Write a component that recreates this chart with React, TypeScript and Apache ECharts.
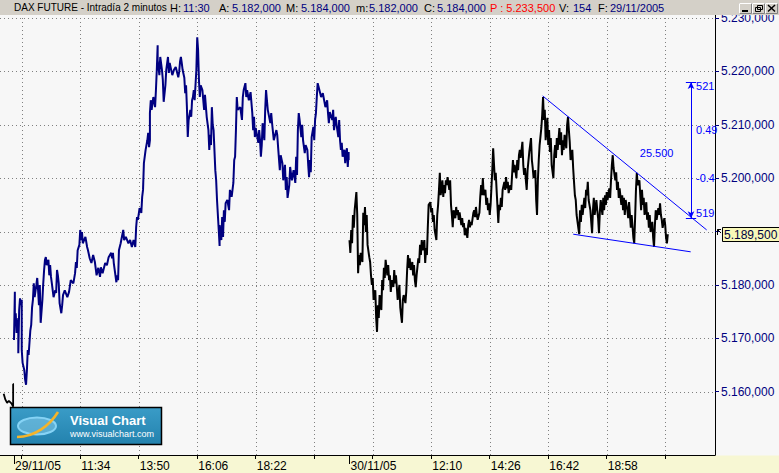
import React, { useEffect, useRef } from "react";
import * as echarts from "echarts";

// ---- data (x = 2-minute bar index from 29/11 09:00, day 2 starts at bar 390) ----
const preDay: [number, number][] = [
  [-12, 5159.6], [-10, 5158.5], [-8, 5157.9], [-6, 5158.3], [-3, 5157.8], [-1, 5157.2], [-1, 5161.4], [0, 5161.4],
];

const day1: [number, number][] = [
  [0,5169.7],[1,5178.7],[1,5173.4],[2,5174.7],[3,5171.0],[5,5173.8],[5,5167.2],[6,5175.3],[7,5177.5],[8,5176.2],[9,5177.2],[9,5167.8],[10,5165.4],[12,5164.0],[13,5162.2],[14,5161.3],[15,5164.0],[16,5167.8],[17,5166.9],[19,5171.5],[20,5172.5],[21,5175.8],[22,5177.2],[23,5180.3],[24,5177.7],[26,5180.0],[27,5181.3],[28,5179.0],[29,5176.2],[30,5180.0],[31,5172.9],[33,5177.2],[34,5180.3],[35,5182.8],[36,5184.7],[37,5185.2],[38,5183.7],[40,5184.7],[41,5181.8],[42,5183.7],[43,5181.5],[44,5180.3],[46,5177.7],[48,5179.0],[49,5178.5],[50,5182.8],[51,5181.8],[52,5180.3],[53,5176.6],[55,5174.7],[56,5176.2],[57,5178.1],[59,5179.0],[62,5177.7],[64,5178.7],[66,5180.9],[69,5180.3],[71,5182.2],[72,5184.3],[73,5183.2],[74,5186.5],[76,5187.5],[77,5190.3],[78,5188.4],[79,5189.9],[80,5187.8],[83,5189.0],[85,5187.1],[86,5186.5],[88,5185.0],[90,5184.1],[92,5185.6],[94,5184.3],[96,5181.8],[98,5183.2],[100,5181.5],[101,5183.3],[103,5182.2],[106,5184.1],[108,5183.7],[110,5185.2],[113,5186.0],[114,5185.0],[115,5186.0],[116,5184.1],[119,5180.5],[120,5181.8],[121,5180.9],[122,5186.5],[124,5187.8],[127,5190.3],[128,5188.4],[130,5189.0],[133,5187.8],[135,5188.4],[137,5187.1],[139,5188.4],[141,5187.1],[142,5190.8],[143,5192.7],[144,5192.2],[146,5194.4],[148,5193.5],[149,5196.5],[150,5197.8],[151,5202.8],[153,5205.3],[155,5207.1],[156,5208.5],[157,5205.8],[158,5207.1],[158,5212.2],[159,5214.6],[160,5212.8],[162,5215.2],[164,5213.3],[165,5216.5],[166,5220.3],[167,5224.9],[167,5222.1],[169,5219.3],[170,5222.7],[172,5220.3],[173,5218.4],[174,5214.3],[176,5217.4],[177,5220.3],[179,5222.7],[180,5219.7],[181,5221.6],[184,5219.3],[186,5220.3],[188,5220.8],[191,5218.9],[192,5219.9],[193,5221.8],[194,5222.7],[195,5221.6],[196,5220.3],[198,5218.8],[199,5215.9],[200,5217.4],[201,5213.3],[202,5207.7],[203,5210.9],[205,5212.8],[206,5211.5],[207,5214.6],[208,5215.2],[209,5216.5],[210,5214.6],[212,5220.3],[213,5226.4],[214,5224.0],[215,5218.4],[216,5215.2],[217,5217.4],[219,5216.5],[221,5212.8],[222,5215.6],[224,5211.5],[226,5209.0],[227,5205.3],[228,5208.1],[229,5206.2],[230,5213.3],[231,5210.0],[232,5209.0],[234,5201.5],[235,5199.6],[236,5195.9],[237,5193.1],[238,5190.3],[239,5187.3],[239,5191.2],[241,5188.4],[242,5192.7],[243,5189.0],[244,5194.0],[245,5191.8],[246,5195.3],[248,5195.9],[250,5194.0],[251,5197.8],[253,5196.5],[255,5199.1],[256,5203.4],[257,5204.0],[258,5209.0],[259,5215.2],[260,5212.8],[263,5213.3],[265,5210.9],[266,5215.2],[267,5216.5],[269,5217.8],[270,5215.2],[271,5216.5],[273,5214.6],[275,5216.1],[277,5212.2],[278,5209.0],[279,5211.5],[280,5207.7],[281,5209.4],[284,5206.6],[285,5209.0],[286,5207.1],[287,5204.0],[288,5206.2],[289,5210.3],[291,5207.1],[292,5212.8],[293,5216.5],[294,5214.6],[295,5212.8],[298,5210.3],[299,5212.2],[300,5210.3],[302,5207.1],[305,5209.0],[306,5208.1],[307,5205.8],[309,5201.5],[310,5204.3],[312,5202.8],[313,5199.6],[315,5202.5],[316,5197.8],[317,5200.2],[318,5196.3],[320,5198.7],[321,5202.1],[323,5199.6],[325,5201.5],[327,5199.1],[328,5204.0],[329,5200.6],[330,5209.0],[331,5212.2],[332,5210.9],[334,5207.7],[335,5210.0],[336,5207.1],[338,5204.7],[339,5206.2],[341,5205.3],[342,5202.5],[343,5200.2],[344,5203.4],[345,5201.1],[346,5207.7],[348,5209.6],[349,5207.1],[350,5210.9],[351,5212.2],[352,5215.2],[353,5217.8],[355,5216.5],[357,5215.2],[359,5215.9],[362,5213.3],[364,5214.6],[365,5212.2],[366,5210.3],[367,5212.4],[370,5210.9],[371,5212.8],[372,5209.0],[374,5211.5],[375,5210.0],[377,5207.7],[378,5210.9],[379,5207.1],[380,5205.3],[381,5206.6],[382,5204.0],[384,5205.3],[385,5202.8],[386,5204.7],[387,5205.6],[388,5202.1],[389,5204.9],[389,5203.4],
];

const day2: [number, number][] = [
  [390,5188.4],[391,5186.0],[392,5190.3],[393,5187.8],[394,5193.1],[395,5190.7],[396,5194.0],[398,5197.4],[399,5193.1],[400,5182.2],[401,5185.6],[402,5183.7],[403,5186.0],[405,5184.3],[406,5193.5],[407,5191.2],[408,5194.6],[409,5189.9],[410,5193.1],[411,5187.5],[413,5185.2],[414,5184.3],[415,5181.8],[416,5180.0],[417,5181.3],[418,5177.2],[420,5179.0],[421,5173.8],[422,5171.2],[423,5176.2],[424,5173.8],[425,5178.1],[427,5175.3],[428,5180.9],[429,5179.0],[430,5183.2],[431,5181.3],[432,5184.7],[434,5181.8],[435,5183.7],[436,5180.9],[437,5181.8],[438,5178.7],[439,5180.9],[441,5179.6],[442,5182.8],[443,5180.3],[444,5181.8],[445,5179.6],[446,5177.2],[448,5180.0],[449,5175.8],[450,5174.3],[451,5172.9],[452,5177.2],[453,5178.1],[455,5176.6],[456,5178.8],[457,5182.8],[458,5185.6],[459,5183.2],[460,5185.0],[461,5182.8],[463,5184.3],[464,5181.8],[465,5183.7],[466,5180.9],[467,5179.6],[468,5181.8],[470,5185.0],[471,5184.1],[472,5187.5],[473,5185.6],[474,5188.4],[475,5186.5],[477,5188.4],[478,5184.1],[479,5186.9],[480,5185.6],[481,5190.7],[482,5195.0],[484,5195.5],[485,5193.6],[486,5194.4],[487,5191.8],[488,5193.1],[489,5190.3],[491,5188.4],[492,5193.1],[493,5195.0],[494,5197.8],[495,5201.0],[496,5196.8],[498,5199.6],[499,5196.5],[500,5198.7],[501,5197.2],[502,5199.6],[503,5198.7],[504,5200.2],[506,5197.8],[507,5199.6],[508,5195.0],[509,5193.1],[510,5190.8],[511,5194.0],[513,5192.5],[514,5194.6],[515,5193.1],[516,5194.0],[517,5192.2],[518,5193.6],[520,5191.2],[521,5192.5],[522,5190.8],[523,5191.6],[524,5189.3],[525,5190.7],[527,5188.8],[528,5191.2],[529,5192.2],[530,5190.8],[531,5191.8],[532,5191.2],[534,5193.5],[535,5194.0],[536,5192.7],[537,5194.6],[538,5193.1],[539,5192.2],[541,5193.5],[542,5196.5],[543,5198.7],[544,5196.8],[545,5200.0],[546,5196.8],[548,5197.8],[549,5195.0],[550,5196.3],[551,5194.0],[552,5195.3],[553,5193.1],[554,5195.0],[556,5201.5],[557,5205.6],[558,5202.5],[559,5199.6],[560,5201.0],[561,5197.8],[563,5191.6],[564,5195.0],[565,5194.0],[566,5196.3],[567,5194.6],[568,5197.8],[570,5199.3],[571,5197.8],[572,5200.2],[573,5198.1],[574,5199.3],[575,5197.2],[577,5198.7],[578,5197.8],[579,5200.6],[580,5203.4],[581,5201.1],[582,5202.5],[584,5200.0],[585,5203.4],[586,5201.5],[587,5204.3],[588,5205.3],[589,5203.8],[591,5206.8],[592,5202.5],[593,5200.6],[594,5201.9],[595,5199.6],[596,5197.8],[597,5201.5],[599,5204.9],[600,5206.2],[601,5207.5],[602,5203.4],[603,5201.9],[604,5200.0],[606,5201.5],[607,5195.9],[608,5193.1],[609,5199.6],[610,5203.4],[611,5206.2],[613,5209.4],[614,5211.8],[615,5215.2],[616,5210.9],[617,5212.8],[618,5207.1],[620,5211.3],[621,5206.2],[622,5209.0],[623,5204.9],[624,5207.5],[625,5202.5],[627,5200.0],[628,5204.3],[629,5206.2],[630,5203.8],[631,5207.5],[632,5205.3],[634,5209.4],[635,5206.2],[636,5208.6],[637,5204.3],[638,5207.1],[639,5205.3],[640,5208.1],[642,5205.6],[643,5210.0],[644,5211.5],[645,5209.0],[646,5206.8],[647,5203.4],[649,5205.3],[650,5201.9],[651,5199.3],[652,5196.8],[653,5195.9],[654,5193.1],[656,5190.7],[657,5189.5],[658,5194.0],[659,5191.8],[660,5195.0],[661,5193.1],[663,5196.3],[664,5194.4],[665,5197.8],[666,5196.8],[667,5199.3],[668,5195.9],[670,5194.0],[671,5191.8],[672,5189.7],[673,5194.0],[674,5196.3],[675,5193.1],[677,5195.9],[678,5194.0],[679,5192.5],[680,5189.7],[681,5193.6],[682,5195.9],[684,5193.1],[685,5196.3],[686,5194.0],[687,5196.8],[688,5195.0],[689,5197.4],[690,5195.9],[692,5198.1],[693,5196.3],[694,5199.6],[695,5202.5],[696,5204.3],[697,5201.9],[699,5199.6],[700,5201.1],[701,5197.8],[702,5199.3],[703,5196.3],[704,5198.1],[706,5195.0],[707,5196.8],[708,5194.0],[709,5196.3],[710,5193.1],[711,5195.9],[713,5194.0],[714,5192.5],[715,5195.5],[716,5193.1],[717,5190.7],[718,5193.1],[720,5188.8],[721,5187.8],[722,5192.5],[723,5197.8],[724,5201.0],[725,5198.7],[727,5199.6],[728,5196.8],[729,5194.0],[730,5197.8],[731,5195.0],[732,5196.3],[733,5193.1],[735,5195.5],[736,5192.2],[737,5193.6],[738,5190.7],[739,5193.1],[740,5189.9],[742,5191.8],[743,5188.8],[744,5187.1],[745,5191.2],[746,5194.0],[747,5192.2],[749,5194.4],[750,5193.1],[751,5195.3],[752,5193.1],[753,5192.2],[754,5190.7],[756,5192.5],[757,5191.2],[758,5188.8],[759,5187.8],[760,5189.5],
];

const priceTicks = [5160, 5170, 5180, 5190, 5200, 5210, 5220, 5230];
const priceLabels = [5160, 5170, 5180, 5200, 5210, 5220, 5230]; // 5.190,000 sits under the last-price tag
const gridBars = [9, 77, 145, 213, 281, 349, 417, 485, 553, 621, 689, 757];
const dayStartBars = [0, 390];
const timeLabelBars = [0, 77, 145, 213, 281, 390, 485, 553, 621, 689];
const timeLabelTexts = ["29/11/05", "11:34", "13:50", "16:06", "18:22", "30/11/05", "12:10", "14:26", "16:42", "18:58"];
const lastPrice = 5189.5;
const upperTrend: [number, number][] = [[614.6, 5215.4], [805.2, 5190.3]];
const lowerTrend: [number, number][] = [[650.1, 5189.5], [786.6, 5186.2]];
const measureBar = 787;
const measureTop = 5218;
const measureBottom = 5192.5;
const measureTexts = ["521", "0.49", "-0.4", "519"];
const measureTextValues = [5217.2, 5209, 5200, 5193.5];
const rangeText = "25.500";
const rangePos: [number, number] = [747, 5204.7];

const headerTexts = [
  "DAX FUTURE - Intradía 2 minutos", "H:", "11:30", "A:", "5.182,000", "M:", "5.184,000",
  "m:", "5.182,000", "C:", "5.184,000", "P : 5.233,500", "V:", "154", "F:", "29/11/2005",
];
const headerX = [14, 170, 183, 219, 232, 286, 301, 356, 369, 424, 437, 490, 559, 573, 598, 610];
const headerKinds = ["t", "l", "v", "l", "v", "l", "v", "l", "v", "l", "v", "r", "l", "v", "l", "v"];

const FONT = '"Liberation Sans", Arial, sans-serif';
const NAVY = "#00007f";
const BLUE = "#0000ff";

function fmt(v: number): string {
  const [i, d] = v.toFixed(3).split(".");
  return i.replace(/\B(?=(\d{3})+(?!\d))/g, ".") + "," + d;
}

function txt(text: string, x: number, y: number, fill: string, font: string, extra: any = {}) {
  return {
    type: "text",
    x,
    y,
    z: extra.z ?? 100,
    silent: true,
    style: {
      text,
      fill,
      font,
      align: extra.align ?? "left",
      verticalAlign: "middle",
      textAlign: extra.align ?? "left",
      textVerticalAlign: "middle",
    },
  };
}

export default function App() {
  const ref = useRef<HTMLDivElement>(null);

  useEffect(() => {
    if (!ref.current) return;
    const chart = echarts.init(ref.current, null, { renderer: "svg" });
    const xMin = -16.27;
    const xMax = 814.88;
    const yMin = 5148.14;
    const yMax = 5230.75;

    const option: any = {
      animation: false,
      backgroundColor: "#f7f7f7",
      grid: { left: 0, top: 14, width: 715, height: 441, containLabel: false },
      xAxis: [
        {
          type: "value",
          min: xMin,
          max: xMax,
          position: "bottom",
          z: 10,
          axisLine: { show: true, onZero: false, lineStyle: { color: "#000", width: 1 } },
          axisTick: { show: true, length: 4, customValues: gridBars, lineStyle: { color: "#000" } },
          axisLabel: {
            show: true,
            customValues: timeLabelBars,
            formatter: (v: number) => {
              const i = timeLabelBars.indexOf(Math.round(v));
              return i >= 0 ? timeLabelTexts[i] : "";
            },
            align: "left",
            margin: 5,
            color: "#000",
            fontSize: 12,
            fontFamily: FONT,
            padding: [0, 0, 0, 1],
          },
          splitLine: { show: false },
        },
        {
          type: "value",
          min: xMin,
          max: xMax,
          position: "bottom",
          z: 10,
          axisLine: { show: false, onZero: false },
          axisTick: { show: true, length: 9, customValues: dayStartBars, lineStyle: { color: "#000" } },
          axisLabel: { show: false },
          splitLine: { show: false },
        },
      ],
      yAxis: {
        type: "value",
        min: yMin,
        max: yMax,
        position: "right",
        z: 10,
        axisLine: { show: true, onZero: false, lineStyle: { color: "#000", width: 1 } },
        axisTick: { show: true, length: 4, customValues: priceTicks, lineStyle: { color: NAVY } },
        axisLabel: {
          show: true,
          customValues: priceLabels,
          formatter: (v: number) => fmt(v),
          color: NAVY,
          fontSize: 12,
          fontFamily: FONT,
          margin: 6,
        },
        splitLine: { show: false },
      },
      series: [
        {
          type: "line",
          data: preDay,
          showSymbol: false,
          symbol: "none",
          z: 3,
          lineStyle: { color: "#000", width: 1.8 },
        },
        {
          type: "line",
          data: day1,
          showSymbol: false,
          symbol: "none",
          z: 3,
          lineStyle: { color: "#000080", width: 2 },
        },
        {
          type: "line",
          data: day2,
          showSymbol: false,
          symbol: "none",
          z: 3,
          lineStyle: { color: "#000", width: 2 },
          markLine: {
            silent: true,
            symbol: ["none", "none"],
            label: { show: false },
            lineStyle: { color: BLUE, width: 1, type: "solid" },
            data: [
              [{ coord: upperTrend[0] }, { coord: upperTrend[1] }],
              [{ coord: lowerTrend[0] }, { coord: lowerTrend[1] }],
              [
                { coord: [measureBar, measureTop], symbol: "arrow", symbolSize: [5, 7] },
                { coord: [measureBar, measureBottom], symbol: "arrow", symbolSize: [5, 7] },
              ],
              [{ coord: [measureBar - 6, measureTop] }, { coord: [measureBar + 6, measureTop] }],
              [{ coord: [measureBar - 6, measureBottom] }, { coord: [measureBar + 6, measureBottom] }],
            ],
          },
        },
      ],
    };
    chart.setOption(option);

    const P = (b: number, v: number) => chart.convertToPixel({ gridIndex: 0 }, [b, v]) as number[];
    const g: any[] = [];

    // dotted grid lines, placed through the axis scales
    gridBars.forEach((b) => {
      const x = Math.round(P(b, yMin)[0]) + 0.5;
      g.push({ type: "line", z: 2, silent: true, shape: { x1: x, y1: 14, x2: x, y2: 455 }, style: { stroke: "#808080", lineWidth: 1, lineDash: [1, 3] } });
    });
    priceTicks.forEach((p) => {
      const y = Math.round(P(0, p)[1]) + 0.5;
      g.push({ type: "line", z: 2, silent: true, shape: { x1: 0, y1: y, x2: 715, y2: y }, style: { stroke: "#808080", lineWidth: 1, lineDash: [1, 3] } });
    });

    // bottom strip
    g.push({ type: "rect", z: 1, silent: true, shape: { x: 0, y: 455.5, width: 779, height: 18 }, style: { fill: "#f7f7d3" } });

    // header bar
    g.push({ type: "rect", z: 99, silent: true, shape: { x: 0, y: 0, width: 779, height: 15 }, style: { fill: "#d4d0c8" } });
    headerTexts.forEach((t, i) => {
      const k = headerKinds[i];
      const fill = k === "r" ? "#ff0000" : k === "v" ? NAVY : "#000";
      const size = k === "t" ? 10 : 11;
      g.push(txt(t, headerX[i], 7.5, fill, `${size}px ${FONT}`));
    });
    // window buttons
    const btnX = [739, 752, 765];
    btnX.forEach((bx) => {
      g.push({ type: "rect", z: 100, silent: true, shape: { x: bx + 0.5, y: 3.5, width: 12, height: 10 }, style: { fill: "#d4d0c8", stroke: "#808080", lineWidth: 1 } });
      g.push({ type: "polyline", z: 100, silent: true, shape: { points: [[bx + 0.5, 13.5], [bx + 0.5, 3.5], [bx + 12.5, 3.5]] }, style: { stroke: "#ffffff", lineWidth: 1, fill: null } });
    });
    g.push({ type: "line", z: 101, silent: true, shape: { x1: 742, y1: 11, x2: 748, y2: 11 }, style: { stroke: "#000", lineWidth: 2 } });
    g.push({ type: "rect", z: 101, silent: true, shape: { x: 755.5, y: 7.5, width: 5, height: 4 }, style: { fill: "none", stroke: "#000", lineWidth: 1 } });
    g.push({ type: "rect", z: 101, silent: true, shape: { x: 757.5, y: 5.5, width: 5, height: 4 }, style: { fill: "none", stroke: "#000", lineWidth: 1 } });
    g.push({ type: "line", z: 101, silent: true, shape: { x1: 768, y1: 5, x2: 775, y2: 11.5 }, style: { stroke: "#000", lineWidth: 1.5 } });
    g.push({ type: "line", z: 101, silent: true, shape: { x1: 775, y1: 5, x2: 768, y2: 11.5 }, style: { stroke: "#000", lineWidth: 1.5 } });

    // price tag
    const tagY = Math.round(P(0, lastPrice)[1]);
    g.push({ type: "rect", z: 50, silent: true, shape: { x: 722.5, y: tagY - 6.5, width: 57, height: 14 }, style: { fill: "#f8f8b8", stroke: "#000", lineWidth: 1 } });
    g.push(txt(fmt(lastPrice), 724, tagY + 0.5, "#000040", `12px ${FONT}`, { z: 51 }));
    g.push({ type: "polyline", z: 51, silent: true, shape: { points: [[717.5, tagY + 1], [717.5, tagY - 4.5], [721, tagY - 4.5]] }, style: { stroke: "#000", lineWidth: 1, fill: null } });
    g.push({ type: "line", z: 51, silent: true, shape: { x1: 717.5, y1: tagY - 4.5, x2: 721, y2: tagY - 1 }, style: { stroke: "#000", lineWidth: 1 } });

    // measure annotation texts
    const mx = P(measureBar, measureTop)[0];
    measureTexts.forEach((t, i) => {
      const y = P(measureBar, measureTextValues[i])[1];
      g.push(txt(t, mx + 5, y, BLUE, `11px ${FONT}`, { z: 40 }));
    });
    const rp = P(rangePos[0], rangePos[1]);
    g.push(txt(rangeText, rp[0], rp[1], BLUE, `11px ${FONT}`, { z: 40, align: "center" }));

    // logo
    g.push({
      type: "rect", z: 60, silent: true,
      shape: { x: 10.5, y: 407.5, width: 151, height: 37 },
      style: {
        fill: new echarts.graphic.LinearGradient(0, 0, 0, 1, [
          { offset: 0, color: "#3a9cc7" },
          { offset: 1, color: "#2382ae" },
        ]),
        stroke: "#000", lineWidth: 1.5,
      },
    });
    g.push({ type: "ellipse", z: 61, silent: true, shape: { cx: 37, cy: 426, rx: 19, ry: 8.5 }, style: { fill: "rgba(150,215,245,0.45)", stroke: "#86d3f5", lineWidth: 2 } });
    g.push({ type: "bezierCurve", z: 62, silent: true, shape: { x1: 17, y1: 437, cpx1: 35, cpy1: 437, cpx2: 50, cpy2: 425, x2: 58, y2: 412 }, style: { stroke: "#f4b42a", lineWidth: 2.5, fill: null } });
    g.push(txt("Visual Chart", 70, 420, "#ffffff", `bold 13px ${FONT}`, { z: 62 }));
    g.push(txt("www.visualchart.com", 70, 434, "#ffffff", `9px ${FONT}`, { z: 62 }));

    chart.setOption({ graphic: { elements: g } });

    return () => chart.dispose();
  }, []);

  return <div ref={ref} style={{ position: "fixed", left: 0, top: 0, width: 779, height: 473 }} />;
}
